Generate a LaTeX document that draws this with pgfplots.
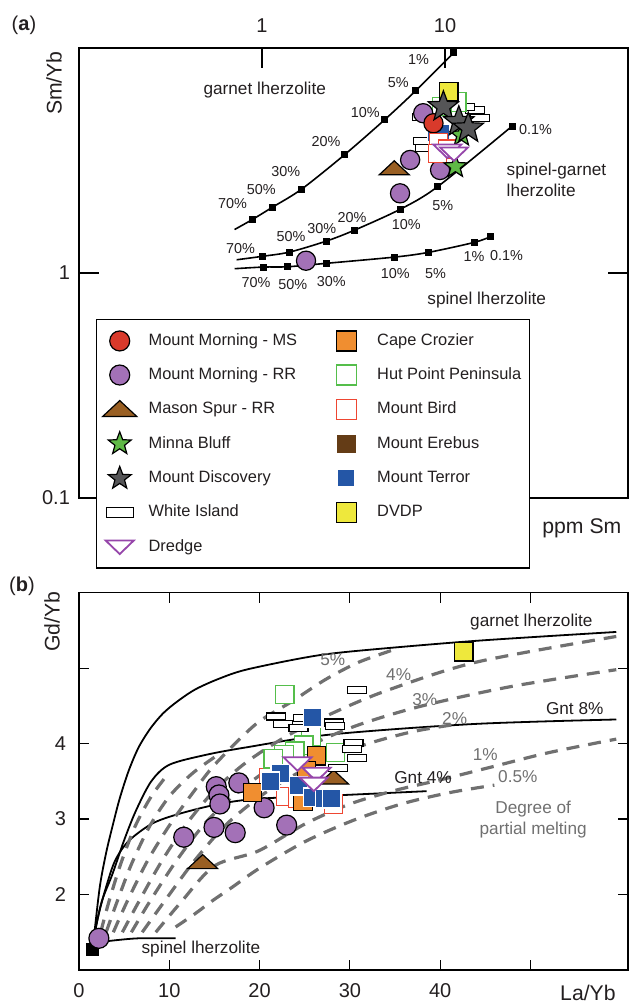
\documentclass[border=0pt]{standalone}
\usepackage{fontspec}
\setmainfont{Liberation Sans}
\usepackage{pgfplots}
\pgfplotsset{compat=1.18}
\usetikzlibrary{plotmarks}

\definecolor{msred}{RGB}{217,58,43}
\definecolor{rrpurple}{RGB}{163,113,183}
\definecolor{masonbrown}{RGB}{153,95,35}
\definecolor{minnagreen}{RGB}{95,185,70}
\definecolor{discgray}{RGB}{85,85,87}
\definecolor{crozorange}{RGB}{240,142,48}
\definecolor{hutgreen}{RGB}{85,190,75}
\definecolor{birdred}{RGB}{238,70,50}
\definecolor{erebusbrown}{RGB}{100,60,22}
\definecolor{terrorblue}{RGB}{36,86,166}
\definecolor{dvdpyellow}{RGB}{238,232,60}
\definecolor{dredgepurple}{RGB}{150,70,170}
\definecolor{meltgray}{RGB}{112,112,112}
\definecolor{txt}{RGB}{35,31,32}

% filled five-pointed star
\pgfdeclareplotmark{fstar}{%
  \pgfpathmoveto{\pgfpointpolar{90}{\pgfplotmarksize}}%
  \pgfpathlineto{\pgfpointpolar{126}{0.42\pgfplotmarksize}}%
  \pgfpathlineto{\pgfpointpolar{162}{\pgfplotmarksize}}%
  \pgfpathlineto{\pgfpointpolar{198}{0.42\pgfplotmarksize}}%
  \pgfpathlineto{\pgfpointpolar{234}{\pgfplotmarksize}}%
  \pgfpathlineto{\pgfpointpolar{270}{0.42\pgfplotmarksize}}%
  \pgfpathlineto{\pgfpointpolar{306}{\pgfplotmarksize}}%
  \pgfpathlineto{\pgfpointpolar{342}{0.42\pgfplotmarksize}}%
  \pgfpathlineto{\pgfpointpolar{18}{\pgfplotmarksize}}%
  \pgfpathlineto{\pgfpointpolar{54}{0.42\pgfplotmarksize}}%
  \pgfpathclose\pgfusepathqfillstroke}
% wide upward triangle
\pgfdeclareplotmark{wtri}{%
  \pgfpathmoveto{\pgfqpoint{0pt}{0.75\pgfplotmarksize}}%
  \pgfpathlineto{\pgfqpoint{-1.5\pgfplotmarksize}{-0.65\pgfplotmarksize}}%
  \pgfpathlineto{\pgfqpoint{1.5\pgfplotmarksize}{-0.65\pgfplotmarksize}}%
  \pgfpathclose\pgfusepathqfillstroke}
% wide downward triangle
\pgfdeclareplotmark{wdtri}{%
  \pgfpathmoveto{\pgfqpoint{0pt}{-0.75\pgfplotmarksize}}%
  \pgfpathlineto{\pgfqpoint{-1.4\pgfplotmarksize}{0.6\pgfplotmarksize}}%
  \pgfpathlineto{\pgfqpoint{1.4\pgfplotmarksize}{0.6\pgfplotmarksize}}%
  \pgfpathclose\pgfusepathqfillstroke}
% flat rectangle
\pgfdeclareplotmark{wrect}{%
  \pgfpathrectanglecorners{\pgfqpoint{-\pgfplotmarksize}{-0.37\pgfplotmarksize}}{\pgfqpoint{\pgfplotmarksize}{0.37\pgfplotmarksize}}%
  \pgfusepathqfillstroke}

\pgfplotsset{
  mMS/.style={only marks, mark=*, mark size=#1, mark options={solid, fill=msred, draw=black, line width=0.6pt}}, mMS/.default=4.8pt,
  mRR/.style={only marks, mark=*, mark size=#1, mark options={solid, fill=rrpurple, draw=black, line width=0.6pt}}, mRR/.default=4.8pt,
  mMason/.style={only marks, mark=wtri, mark size=#1, mark options={solid, fill=masonbrown, draw=black, line width=0.6pt}}, mMason/.default=5pt,
  mMinna/.style={only marks, mark=fstar, mark size=#1, mark options={solid, fill=minnagreen, draw=black, line width=0.6pt}}, mMinna/.default=8pt,
  mDisc/.style={only marks, mark=fstar, mark size=#1, mark options={solid, fill=discgray, draw=black, line width=0.6pt}}, mDisc/.default=8pt,
  mWhite/.style={only marks, mark=wrect, mark size=#1, mark options={solid, fill=white, draw=black, line width=0.6pt}}, mWhite/.default=4.75pt,
  mDredge/.style={only marks, mark=wdtri, mark size=#1, mark options={solid, fill=white, draw=dredgepurple, line width=0.9pt}}, mDredge/.default=5pt,
  mCroz/.style={only marks, mark=square*, mark size=#1, mark options={solid, fill=crozorange, draw=black, line width=0.6pt}}, mCroz/.default=4.6pt,
  mHut/.style={only marks, mark=square*, mark size=#1, mark options={solid, fill=white, draw=hutgreen, line width=0.6pt}}, mHut/.default=4.6pt,
  mBird/.style={only marks, mark=square*, mark size=#1, mark options={solid, fill=white, draw=birdred, line width=0.6pt}}, mBird/.default=4.6pt,
  mErebus/.style={only marks, mark=square*, mark size=#1, mark options={solid, fill=erebusbrown, draw=erebusbrown, line width=0.3pt}}, mErebus/.default=4.4pt,
  mTerror/.style={only marks, mark=square*, mark size=#1, mark options={solid, fill=terrorblue, draw=white, line width=0.7pt}}, mTerror/.default=4.6pt,
  mDVDP/.style={only marks, mark=square*, mark size=#1, mark options={solid, fill=dvdpyellow, draw=black, line width=0.6pt}}, mDVDP/.default=4.7pt,
  meltcurve/.style={black, line width=0.8pt, smooth, forget plot},
  meltstep/.style={only marks, mark=square*, mark size=1.5pt, mark options={fill=black, draw=black}, forget plot},
  pmelt/.style={meltgray, line width=1.6pt, dash pattern=on 6.5pt off 4.5pt, smooth, forget plot},
}

\newcommand\fpct{\fontsize{7.2}{8}\selectfont}
\newcommand\flab{\fontsize{8.6}{10.5}\selectfont}
\newcommand\ftick{\fontsize{10}{12}\selectfont}
\newcommand\faxis{\fontsize{10.6}{12}\selectfont}

\begin{document}
\begin{tikzpicture}[every node/.style={text=txt}]
\path[use as bounding box] (0,0) rectangle (314.5pt,-502.5pt);

\node[font=\ftick] at (12pt,-12.5pt) {(\textbf{a})};
\node[font=\ftick] at (11pt,-293.3pt) {(\textbf{b})};

% ---------------- (a) Sm/Yb vs Sm ----------------
\begin{axis}[
  at={(39.5pt,-249pt)}, anchor=south west,
  scale only axis, width=274.5pt, height=225pt,
  xmode=log, ymode=log,
  xmin=0.1, xmax=100, ymin=0.1, ymax=10,
  xtick={1,10}, xticklabels={1,10},
  ytick={0.1,1}, yticklabels={0.1,1},
  xminorticks=false, yminorticks=false,
  tick pos=both, xticklabel pos=upper, yticklabel pos=left,
  tick align=inside, major tick length=10pt,
  axis line style={line width=0.6pt},
  every tick/.style={black, line width=0.6pt},
  ticklabel style={font=\ftick},
  xticklabel style={yshift=4pt},
  yticklabel style={xshift=-1pt},
  /pgf/number format/assume math mode=true,
  clip=false,
  legend columns=2,
  legend cell align=left,
  legend style={at={(0.031,0.398)}, anchor=north west, draw=black, line width=0.6pt,
    fill=white, font=\fontsize{8.2}{10}\selectfont, text=txt,
    inner xsep=3pt, inner ysep=5pt, row sep=5.6pt,
    nodes={inner xsep=1pt},
    /tikz/column 1/.append style={column sep=4.9pt},
    /tikz/column 2/.append style={column sep=18.5pt},
    /tikz/column 3/.append style={column sep=9.5pt}},
]
\addlegendimage{mMS=5pt}\addlegendentry{Mount Morning - MS}
\addlegendimage{mCroz=5pt}\addlegendentry{Cape Crozier}
\addlegendimage{mRR=5pt}\addlegendentry{Mount Morning - RR}
\addlegendimage{mHut=5pt}\addlegendentry{Hut Point Peninsula}
\addlegendimage{mMason=5.7pt}\addlegendentry{Mason Spur - RR}
\addlegendimage{mBird=5pt}\addlegendentry{Mount Bird}
\addlegendimage{mMinna=6pt}\addlegendentry{Minna Bluff}
\addlegendimage{mErebus=4.4pt}\addlegendentry{Mount Erebus}
\addlegendimage{mDisc=6pt}\addlegendentry{Mount Discovery}
\addlegendimage{mTerror=4.4pt}\addlegendentry{Mount Terror}
\addlegendimage{mWhite=6.8pt}\addlegendentry{White Island}
\addlegendimage{mDVDP=5pt}\addlegendentry{DVDP}
\addlegendimage{mDredge=5pt}\addlegendentry{Dredge}

% melting curves with melt-fraction steps
\addplot[meltcurve] coordinates {(0.708,1.56) (0.885,1.728) (1.146,1.965) (1.648,2.36) (2.82,3.35) (4.68,4.80) (6.91,6.45) (11.17,9.53)};
\addplot[meltstep] coordinates {(0.885,1.728) (1.146,1.965) (1.648,2.36) (2.82,3.35) (4.68,4.80) (6.91,6.45) (11.17,9.53)};
\addplot[meltcurve] coordinates {(0.727,1.145) (1.004,1.186) (1.416,1.239) (2.245,1.386) (3.20,1.55) (5.73,1.925) (9.12,2.42) (23.3,4.50)};
\addplot[meltstep] coordinates {(1.004,1.186) (1.416,1.239) (2.245,1.386) (3.20,1.55) (5.73,1.925) (9.12,2.42) (23.3,4.50)};
\addplot[meltcurve] coordinates {(0.708,1.045) (1.024,1.063) (1.381,1.066) (2.245,1.104) (5.31,1.177) (8.12,1.235) (14.4,1.367) (17.8,1.452)};
\addplot[meltstep] coordinates {(1.024,1.063) (1.381,1.066) (2.245,1.104) (5.31,1.177) (8.12,1.235) (14.4,1.367) (17.8,1.452)};

% samples
\addplot[mWhite, forget plot] coordinates {(14.6,5.3) (15.6,4.9) (12.8,5.45) (7.5,4.95) (7.6,3.85) (7.8,3.6)};
\addplot[mHut, forget plot] coordinates {(11.6,5.75) (9.6,5.5)};
\addplot[mTerror, forget plot] coordinates {(9.0,4.2) (9.5,4.15)};
\addplot[mDVDP, forget plot] coordinates {(10.45,6.4)};
\addplot[mRR, forget plot] coordinates {(7.6,5.13) (6.45,3.18) (9.4,2.87) (5.68,2.26) (1.74,1.134)};
\addplot[mMS, forget plot] coordinates {(8.65,4.63)};
\addplot[mMason, forget plot] coordinates {(5.28,2.92)};
\addplot[mBird, forget plot] coordinates {(9.2,3.8) (10.3,3.55) (9.1,3.4)};
\addplot[mMinna, mark size=6pt, forget plot] coordinates {(12.3,4.1) (11.4,2.97)};
\addplot[mDredge, forget plot] coordinates {(10.3,3.5) (11.2,3.4)};
\addplot[mDisc, forget plot] coordinates {(9.8,5.48) (11.9,4.7) (13.4,4.4)};

% curve annotations
\node[font=\fpct] at (axis cs:7.16,8.85) {1\%};
\node[font=\fpct] at (axis cs:5.56,6.99) {5\%};
\node[font=\fpct] at (axis cs:3.67,5.14) {10\%};
\node[font=\fpct] at (axis cs:2.24,3.82) {20\%};
\node[font=\fpct] at (axis cs:1.35,2.81) {30\%};
\node[font=\fpct] at (axis cs:0.99,2.36) {50\%};
\node[font=\fpct] at (axis cs:0.69,2.03) {70\%};
\node[font=\fpct] at (axis cs:0.764,1.28) {70\%};
\node[font=\fpct] at (axis cs:1.44,1.445) {50\%};
\node[font=\fpct] at (axis cs:2.12,1.57) {30\%};
\node[font=\fpct] at (axis cs:3.10,1.77) {20\%};
\node[font=\fpct] at (axis cs:6.15,1.65) {10\%};
\node[font=\fpct] at (axis cs:9.73,2.0) {5\%};
\node[font=\fpct] at (axis cs:31.2,4.36) {0.1\%};
\node[font=\fpct] at (axis cs:0.927,0.903) {70\%};
\node[font=\fpct] at (axis cs:1.475,0.885) {50\%};
\node[font=\fpct] at (axis cs:2.39,0.912) {30\%};
\node[font=\fpct] at (axis cs:5.35,0.99) {10\%};
\node[font=\fpct] at (axis cs:8.87,0.99) {5\%};
\node[font=\fpct] at (axis cs:14.4,1.178) {1\%};
\node[font=\fpct] at (axis cs:21.7,1.19) {0.1\%};
\node[font=\flab] at (axis cs:1.035,6.5) {garnet lherzolite};
\node[font=\flab, anchor=west, align=left] at (axis cs:19.9,2.6) {spinel-garnet\\lherzolite};
\node[font=\flab] at (axis cs:16.9,0.759) {spinel lherzolite};
\node[font=\faxis, rotate=90] at (rel axis cs:-0.0455,0.922) {Sm/Yb};
\node[font=\faxis] at (rel axis cs:0.916,-0.067) {ppm Sm};
\end{axis}

% ---------------- (b) Gd/Yb vs La/Yb ----------------
\begin{axis}[
  at={(39.5pt,-485pt)}, anchor=south west,
  scale only axis, width=274.5pt, height=188.65pt,
  xmin=0, xmax=60.8, ymin=1, ymax=6,
  xtick={0,10,20,30,40,50}, xticklabels={0,10,20,30,40,{}},
  ytick={2,3,4,5}, yticklabels={2,3,4,{}},
  tick pos=both, xticklabel pos=lower, yticklabel pos=left,
  tick align=inside, major tick length=5pt,
  axis line style={line width=0.6pt},
  every tick/.style={black, line width=0.6pt},
  ticklabel style={font=\ftick},
  xticklabel style={yshift=-3pt},
  yticklabel style={xshift=-3pt},
  /pgf/number format/assume math mode=true,
  clip=false,
]
% mixing curves
\addplot[black, line width=0.9pt, smooth, forget plot] coordinates {(1.66,1.44) (2.3,2.1) (3.0,2.55) (3.7,2.9) (4.5,3.27) (5.5,3.64) (6.6,3.95) (7.9,4.2) (9.3,4.4) (10.9,4.56) (12.9,4.72) (15.5,4.86) (18.5,4.98) (25,5.14) (30,5.22) (43.7,5.36) (59.5,5.48)};
\addplot[black, line width=0.9pt, smooth, forget plot] coordinates {(1.66,1.44) (2.5,1.9) (3.7,2.27) (5,2.72) (6.3,3.11) (8,3.5) (10,3.72) (14,3.85) (18.5,3.95) (27.8,4.12) (43.7,4.26) (59.5,4.32)};
\addplot[black, line width=0.9pt, smooth, forget plot] coordinates {(1.66,1.44) (2.2,1.75) (3,2.1) (4,2.45) (5.5,2.71) (8.1,2.94) (11.1,3.07) (15.5,3.2) (19.9,3.27) (29.5,3.32) (38.5,3.37)};
\addplot[black, line width=0.9pt, smooth, forget plot] coordinates {(1.66,1.36) (2.5,1.37) (3.7,1.39) (6.6,1.42) (10.7,1.42)};

% lines of equal degree of partial melting
\addplot[pmelt] coordinates {(2.4,1.5) (3.3,1.9) (4.6,2.4) (6.2,2.9) (8,3.3) (10,3.62)};
\addplot[pmelt] coordinates {(3.0,1.5) (4.2,1.9) (5.8,2.4) (7.8,2.9) (10,3.3) (12.5,3.6) (15,3.82)};
\addplot[pmelt] coordinates {(3.8,1.5) (5.3,1.9) (7.6,2.45) (10.2,2.95) (12.8,3.38) (15.1,3.73) (19.6,4.26) (23.6,4.56) (27.3,4.85) (31,5.08) (35,5.25)};
\addplot[pmelt] coordinates {(4.8,1.5) (6.6,1.9) (9.2,2.45) (12,2.95) (15,3.38) (18.5,3.75) (23,4.1) (28,4.4) (34,4.7) (44,5.08) (59.5,5.42)};
\addplot[pmelt] coordinates {(5.8,1.5) (7.8,1.9) (10.8,2.45) (14,2.95) (17.5,3.35) (21.5,3.7) (26,4.0) (31,4.25) (38,4.5) (48,4.76) (59.5,4.98)};
\addplot[pmelt] coordinates {(7.0,1.5) (9.4,1.9) (12.8,2.45) (16.5,2.95) (21,3.38) (26,3.72) (31.5,3.98) (37,4.16) (42,4.26)};
\addplot[pmelt] coordinates {(8.5,1.5) (11.3,1.9) (15,2.38) (19.9,2.58) (25.1,2.94) (30,3.2) (35,3.38) (40,3.52) (46,3.7) (52,3.88) (59.5,4.06)};
\addplot[pmelt] coordinates {(10.7,1.57) (12.9,1.75) (14.8,1.92) (17,2.1) (20,2.35) (25,2.7) (30.3,2.98) (35.7,3.2) (41,3.35) (46,3.45)};

% samples
\addplot[only marks, mark=square*, mark size=3pt, mark options={fill=black, draw=black}, forget plot] coordinates {(1.47,1.27)};
\addplot[mRR, mark size=5pt, forget plot] coordinates {(2.2,1.42) (15.2,3.43) (15.5,3.32) (15.6,3.2) (17.7,3.48) (20.5,3.15) (11.6,2.76) (14.95,2.89) (17.3,2.82) (23.0,2.92)};
\addplot[mMason, forget plot] coordinates {(13.7,2.43) (28.2,3.55)};
\addplot[mBird, forget plot] coordinates {(21.6,3.78) (21.0,3.55) (22.9,3.3) (24.2,3.28) (28.2,3.2)};
\addplot[mHut, forget plot] coordinates {(22.8,4.65) (25.7,4.1) (24.9,3.98) (23.9,3.9) (22.7,3.85) (28.4,3.88) (21.5,3.8)};
\addplot[mWhite, forget plot] coordinates {(21.8,4.36) (22.6,4.26) (24.8,4.34) (24.3,4.21) (28.2,4.28) (28.35,4.23) (30.8,4.71) (30.4,4.01) (30.2,3.93) (30.75,3.81) (28.7,3.68)};
\addplot[mCroz, forget plot] coordinates {(19.2,3.35) (26.3,3.84) (24.8,3.24) (25.2,3.64)};
\addplot[mTerror, forget plot] coordinates {(25.9,4.34) (22.3,3.6) (21.2,3.5) (24.3,3.44) (25.9,3.29) (27.2,3.27) (28.0,3.27)};
\addplot[mDredge, forget plot] coordinates {(24.2,3.74) (26.3,3.6) (26.0,3.47)};
\addplot[mDVDP, forget plot] coordinates {(42.6,5.22)};

% annotations
\node[font=\flab] at (axis cs:50.1,5.61) {garnet lherzolite};
\node[font=\flab] at (axis cs:54.9,4.47) {Gnt 8\%};
\node[font=\flab] at (axis cs:38.1,3.55) {Gnt 4\%};
\node[font=\flab] at (axis cs:13.5,1.28) {spinel lherzolite};
\node[font=\flab, text=meltgray] at (axis cs:28.1,5.12) {5\%};
\node[font=\flab, text=meltgray] at (axis cs:35.4,4.92) {4\%};
\node[font=\flab, text=meltgray] at (axis cs:38.3,4.59) {3\%};
\node[font=\flab, text=meltgray] at (axis cs:41.6,4.33) {2\%};
\node[font=\flab, text=meltgray] at (axis cs:45,3.86) {1\%};
\node[font=\flab, text=meltgray] at (axis cs:48.6,3.57) {0.5\%};
\node[font=\flab, text=meltgray, align=center] at (axis cs:50.3,3.0) {Degree of\\partial melting};
\node[font=\faxis, rotate=90] at (rel axis cs:-0.049,0.923) {Gd/Yb};
\node[font=\faxis] at (rel axis cs:0.927,-0.062) {La/Yb};
\end{axis}
\end{tikzpicture}
\end{document}
